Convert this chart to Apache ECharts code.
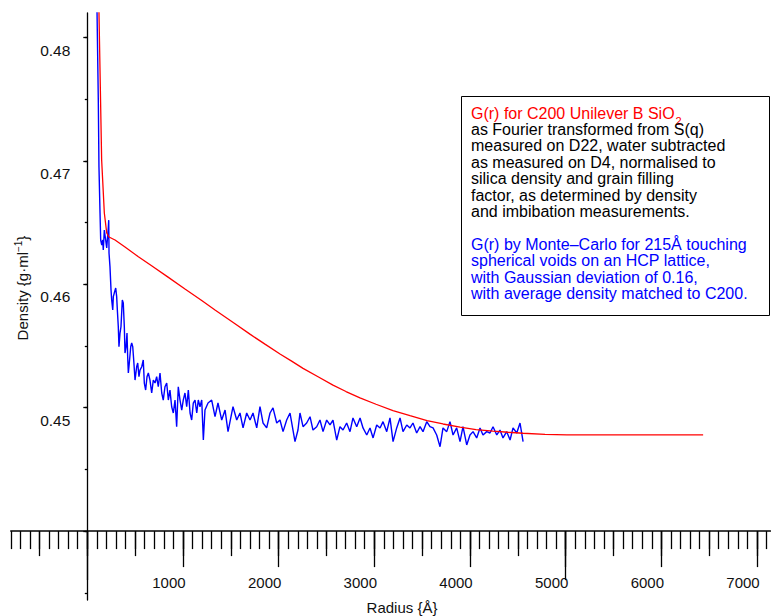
<!DOCTYPE html>
<html>
<head>
<meta charset="utf-8">
<script src="https://cdn.jsdelivr.net/npm/echarts@6/dist/echarts.min.js"></script>
<style>
html,body{margin:0;padding:0;background:#fff;}
#chart{width:771px;height:616px;}
</style>
</head>
<body>
<div id="chart"></div>
<script>
// ---- data ----
const redRadius = [118,122,150,178,203,227,290,394,530,676,844,1021,1196,1335,1544,1700,1857,2014,2140,2255,2412,2568,2704,2850,3018,3195,3373,3551,3718,3896,4063,4241,4398,4555,4784,5014,6437];
const redDensity = [0.4845,0.48199,0.47007,0.46578,0.46416,0.46383,0.46359,0.46302,0.46226,0.46148,0.46058,0.45962,0.45868,0.45792,0.45680,0.45596,0.45515,0.45435,0.45375,0.45319,0.45251,0.45183,0.45131,0.45079,0.45028,0.44976,0.44935,0.44896,0.44868,0.44843,0.44823,0.44810,0.44801,0.44793,0.44784,0.44779,0.44779];

const blueRadius = [100,115,122,133,140,151,161,167,178,192,203,220,224,227,237,248,255,266,272,282,297,307,314,324,331,342,352,366,376,387,394,405,415,422,429,439,454,464,475,485,499,516,527,540,551,569,585,596,610,624,638,655,673,690,708,725,742,760,778,794,812,830,847,864,882,899,917,934,951,969,987,1003,1021,1039,1056,1074,1091,1108,1126,1144,1160,1178,1196,1213,1230,1262,1300,1335,1366,1405,1440,1471,1523,1562,1596,1628,1666,1701,1732,1771,1805,1837,1875,1910,1941,1980,2014,2046,2084,2119,2171,2202,2223,2255,2293,2328,2359,2398,2432,2464,2502,2537,2568,2607,2641,2673,2711,2746,2777,2816,2851,2882,2921,2955,2987,3025,3060,3091,3130,3164,3196,3234,3269,3300,3339,3373,3404,3443,3478,3509,3548,3582,3614,3652,3687,3718,3757,3791,3823,3861,3896,3927,3966,4000,4032,4070,4105,4136,4175,4209,4241,4280,4314,4345,4384,4419,4450,4489,4523,4555];
const blueDensity = [0.4830,0.47494,0.46950,0.46578,0.46359,0.46318,0.46359,0.46278,0.46440,0.46359,0.46294,0.46464,0.46520,0.46254,0.46143,0.45954,0.45873,0.45792,0.45900,0.45929,0.45970,0.45900,0.45792,0.45656,0.45494,0.45605,0.45656,0.45873,0.45848,0.45656,0.45443,0.45494,0.45605,0.45413,0.45281,0.45362,0.45494,0.45524,0.45494,0.45387,0.45224,0.45332,0.45362,0.45251,0.45305,0.45332,0.45387,0.45200,0.45143,0.45251,0.45281,0.45224,0.45119,0.45224,0.45200,0.45251,0.45170,0.45281,0.45119,0.45062,0.45170,0.45200,0.45062,0.45143,0.45008,0.44957,0.45062,0.44846,0.45170,0.45062,0.44981,0.45062,0.45119,0.45008,0.45143,0.44957,0.44900,0.45038,0.45062,0.44957,0.45062,0.45008,0.45062,0.44738,0.44981,0.45038,0.45062,0.44927,0.45038,0.44900,0.44981,0.44806,0.45008,0.44900,0.44957,0.44836,0.44957,0.44900,0.44957,0.44836,0.45008,0.44876,0.44836,0.44957,0.44998,0.44876,0.44900,0.44806,0.44900,0.44957,0.44725,0.44819,0.44957,0.44846,0.44876,0.44927,0.44819,0.44846,0.44900,0.44806,0.44900,0.44860,0.44900,0.44738,0.44846,0.44819,0.44876,0.44806,0.44917,0.44846,0.44917,0.44836,0.44779,0.44836,0.44755,0.44860,0.44836,0.44887,0.44806,0.44917,0.44725,0.44836,0.44917,0.44806,0.44860,0.44836,0.44876,0.44795,0.44846,0.44806,0.44887,0.44846,0.44836,0.44779,0.44684,0.44836,0.44806,0.44887,0.44779,0.44836,0.44725,0.44846,0.44698,0.44779,0.44806,0.44755,0.44836,0.44779,0.44806,0.44795,0.44846,0.44779,0.44819,0.44755,0.44806,0.44738,0.44836,0.44795,0.44876,0.44725];

const xTickValues = [1000,2000,3000,4000,5000,6000,7000];
const xTickLabels = ['1000','2000','3000','4000','5000','6000','7000'];
const yTickValues = [0.45,0.46,0.47,0.48];
const yTickLabels = ['0.45','0.46','0.47','0.48'];

const xAxisTitle = 'Radius {Å}';
const yAxisTitleMain = 'Density {g·ml';
const yAxisTitleSup = '−1';
const yAxisTitleEnd = '}';

const noteRedLine = 'G(r) for C200 Unilever B SiO';
const noteRedSub = '2';
const noteBlackLines = [
  'as Fourier transformed from S(q)',
  'measured on D22, water subtracted',
  'as measured on D4, normalised to',
  'silica density and grain filling',
  'factor, as determined by density',
  'and imbibation measurements.'
];
const noteBlueLines = [
  'G(r) by Monte–Carlo for 215Å touching',
  'spherical voids on an HCP lattice,',
  'with Gaussian deviation of 0.16,',
  'with average density matched to C200.'
];

// ---- layout helpers (pixel frame of the plot) ----
const X0 = 87.3, XS = 0.09567;      // px at r=0, px per Å
const Y45 = 407.7, YS = 12340;       // px at 0.45, px per unit density
const px = r => X0 + r * XS;
const py = v => Y45 - (v - 0.45) * YS;
const FONT = '"Liberation Sans", Arial, Helvetica, sans-serif';
const NOTE_SIZE = 16, NOTE_LH = 16.4;
const TOPV = 0.481985, BOTV = 0.434416, XMIN = -800, XMAX = 7140;
const YLAB_SHIFT = 12.5;

const redData = redRadius.map((r, i) => [r, redDensity[i]]);
const blueData = blueRadius.map((r, i) => [r, blueDensity[i]]);

function grid(l, r, t, b) {
  return { left: l, top: t, width: r - l, height: b - t, containLabel: false, outerBoundsMode: 'none' };
}
const tickStyle = { color: '#000', width: 1.3 };
function tickAxis(gi, min, max, interval, len, label) {
  return {
    type: 'value', gridIndex: gi, min: min, max: max, interval: interval,
    axisLine: { show: false, onZero: false },
    axisTick: { show: len > 0, length: len, lineStyle: tickStyle },
    axisLabel: label || { show: false },
    splitLine: { show: false }
  };
}
function hidden(gi) {
  return { type: 'value', gridIndex: gi, min: 0, max: 1, show: false, axisLine: { onZero: false }, splitLine: { show: false } };
}

const xLabelFmt = v => { const i = xTickValues.indexOf(Math.round(v)); return i >= 0 ? xTickLabels[i] : ''; };
const yLabelFmt = v => { const i = yTickValues.findIndex(t => Math.abs(t - v) < 1e-6); return i >= 0 ? yTickLabels[i] : ''; };

// width of the red heading, to place its subscript
const mctx = document.createElement('canvas').getContext('2d');
mctx.font = NOTE_SIZE + 'px ' + FONT;
const redLineWidth = mctx.measureText(noteRedLine).width;

const noteText = noteBlackLines.map(l => '{k|' + l + '}').join('\n') + '\n\n' +
  noteBlueLines.map(l => '{b|' + l + '}').join('\n');

const NOTE_X = 471, NOTE_Y = 105;

const chart = echarts.init(document.getElementById('chart'), null, { renderer: 'svg' });
chart.setOption({
  animation: false,
  backgroundColor: '#fff',
  textStyle: { fontFamily: FONT },
  grid: [
    grid(px(XMIN), px(XMAX), py(TOPV), py(BOTV)),   // 0 data
    grid(px(-800), px(7100), py(TOPV), py(0.44)),   // 1 minor ticks
    grid(px(-500), px(7000), py(TOPV), py(0.44)),   // 2 half ticks
    grid(px(0), px(7000), py(TOPV), py(0.44)),      // 3 major ticks + labels
    grid(px(0), px(5000), py(TOPV), py(0.44)),      // 4 long tick
    grid(px(0), px(0) + 20, py(0.48), py(0.435)),   // 5 y minor ticks
    grid(px(0), px(0) + 20, py(0.48), py(0.44)),    // 6 y major ticks
    grid(px(0), px(0) + 20, py(0.48) + YLAB_SHIFT, py(0.44) + YLAB_SHIFT)  // 7 y labels
  ],
  xAxis: [
    {
      type: 'value', gridIndex: 0, min: XMIN, max: XMAX, offset: -(py(BOTV) - py(0.44)),
      axisLine: { show: true, onZero: false, lineStyle: { color: '#000', width: 1.5 } },
      axisTick: { show: false }, axisLabel: { show: false }, splitLine: { show: false }
    },
    tickAxis(1, -800, 7100, 100, 18),
    tickAxis(2, -500, 7000, 500, 25),
    tickAxis(3, 0, 7000, 1000, 36, {
      show: true, showMinLabel: false, formatter: xLabelFmt,
      color: '#111', fontSize: 15, fontFamily: FONT, margin: 44, padding: [0, 28, 0, 0]
    }),
    tickAxis(4, 0, 5000, 5000, 49),
    hidden(5), hidden(6), hidden(7)
  ],
  yAxis: [
    {
      type: 'value', gridIndex: 0, min: BOTV, max: TOPV,
      axisLine: { show: true, onZero: true, lineStyle: { color: '#000', width: 1.3 } },
      axisTick: { show: false }, axisLabel: { show: false }, splitLine: { show: false }
    },
    hidden(1), hidden(2), hidden(3), hidden(4),
    tickAxis(5, 0.435, 0.48, 0.005, 2.5),
    tickAxis(6, 0.44, 0.48, 0.01, 4),
    tickAxis(7, 0.44, 0.48, 0.01, 0, {
      show: true, showMinLabel: false, formatter: yLabelFmt,
      color: '#111', fontSize: 15.5, fontFamily: FONT, margin: 17
    })
  ],
  series: [
    {
      name: 'Monte-Carlo', type: 'line', xAxisIndex: 0, yAxisIndex: 0, data: blueData,
      showSymbol: false, symbol: 'none', clip: true,
      lineStyle: { color: '#0000ff', width: 1.4 }, z: 3
    },
    {
      name: 'C200', type: 'line', xAxisIndex: 0, yAxisIndex: 0, data: redData,
      showSymbol: false, symbol: 'none', clip: true,
      lineStyle: { color: '#ff0000', width: 1.3 }, z: 4
    }
  ],
  graphic: [
    {
      type: 'rect', z: 100,
      shape: { x: 461.5, y: 96.5, width: 308, height: 219 },
      style: { fill: '#fff', stroke: '#000', lineWidth: 1 }
    },
    {
      type: 'text', z: 101, x: NOTE_X, y: NOTE_Y,
      style: { text: noteRedLine, fontFamily: FONT, fontSize: NOTE_SIZE, lineHeight: NOTE_LH, fill: '#ff0000', verticalAlign: 'top', align: 'left' }
    },
    {
      type: 'text', z: 101, x: NOTE_X + redLineWidth + 1, y: NOTE_Y + NOTE_LH / 2 + 7.5,
      style: { text: noteRedSub, fontFamily: FONT, fontSize: 11, fill: '#ff0000', verticalAlign: 'middle', align: 'left' }
    },
    {
      type: 'text', z: 101, x: NOTE_X, y: NOTE_Y + NOTE_LH,
      style: {
        text: noteText, fontFamily: FONT, fontSize: NOTE_SIZE, lineHeight: NOTE_LH, fill: '#000',
        verticalAlign: 'top', align: 'left',
        rich: {
          k: { fill: '#000', fontSize: NOTE_SIZE, lineHeight: NOTE_LH, fontFamily: FONT },
          b: { fill: '#0000ff', fontSize: NOTE_SIZE, lineHeight: NOTE_LH, fontFamily: FONT }
        }
      }
    },
    {
      type: 'text', z: 101, x: 402, y: 607,
      style: { text: xAxisTitle, fontFamily: FONT, fontSize: 15, fill: '#111', align: 'center', verticalAlign: 'middle' }
    },
    {
      type: 'text', z: 101, x: 22, y: 288, rotation: Math.PI / 2,
      style: {
        text: yAxisTitleMain + '{sup|' + yAxisTitleSup + '}' + yAxisTitleEnd,
        fontFamily: FONT, fontSize: 15, lineHeight: 17, fill: '#111', align: 'center', verticalAlign: 'middle',
        rich: { sup: { fontSize: 10, lineHeight: 17, verticalAlign: 'top', fill: '#111', fontFamily: FONT } }
      }
    }
  ]
});
</script>
</body>
</html>
